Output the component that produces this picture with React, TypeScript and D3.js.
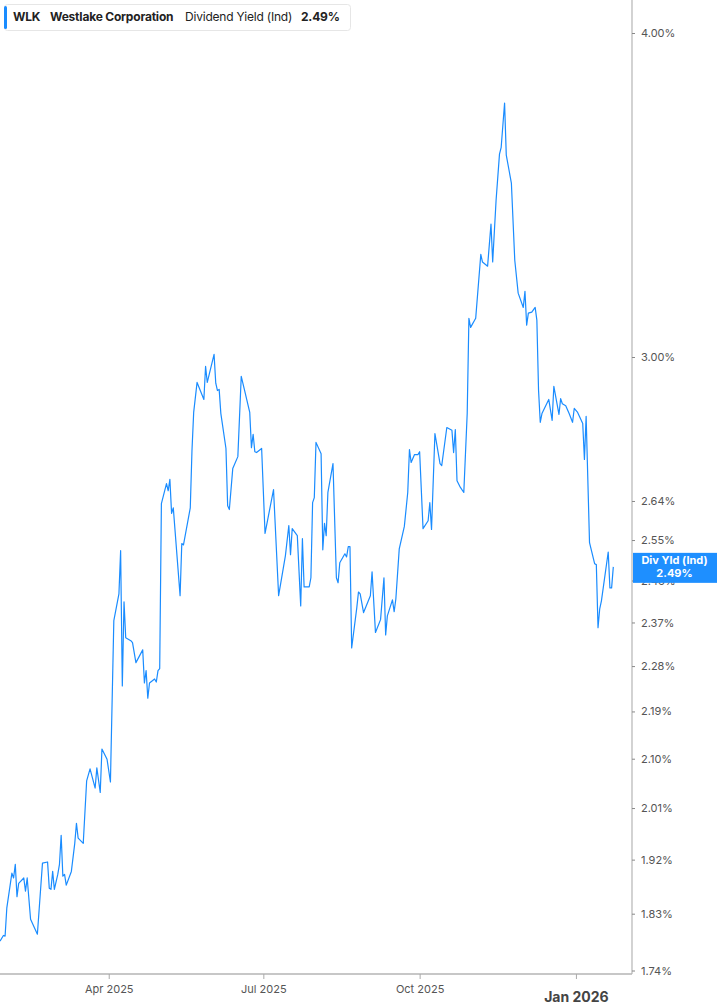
import { useEffect, useRef } from 'react';
import * as d3 from 'd3';

const chartWidth = 717;
const chartHeight = 1005;

const tickerName = 'WLK';
const companyName = 'Westlake Corporation';
const metricName = 'Dividend Yield (Ind)';
const badgeName = 'Div Yld (Ind)';

const dateList = [
  '2025-01-27', '2025-01-29', '2025-01-30', '2025-01-31', '2025-02-03', '2025-02-04', '2025-02-05', '2025-02-06',
  '2025-02-07', '2025-02-10', '2025-02-11', '2025-02-12', '2025-02-14', '2025-02-18', '2025-02-21', '2025-02-24',
  '2025-02-25', '2025-02-26', '2025-02-27', '2025-02-28', '2025-03-02', '2025-03-03', '2025-03-04', '2025-03-05',
  '2025-03-06', '2025-03-07', '2025-03-10', '2025-03-12', '2025-03-13', '2025-03-14', '2025-03-17', '2025-03-19',
  '2025-03-21', '2025-03-24', '2025-03-25', '2025-03-27', '2025-03-28', '2025-03-31', '2025-04-02', '2025-04-04',
  '2025-04-07', '2025-04-08', '2025-04-09', '2025-04-10', '2025-04-11', '2025-04-14', '2025-04-15', '2025-04-17',
  '2025-04-21', '2025-04-22', '2025-04-23', '2025-04-24', '2025-04-25', '2025-04-28', '2025-04-29', '2025-04-30',
  '2025-05-01', '2025-05-02', '2025-05-05', '2025-05-06', '2025-05-07', '2025-05-08', '2025-05-09', '2025-05-13',
  '2025-05-14', '2025-05-15', '2025-05-19', '2025-05-20', '2025-05-21', '2025-05-23', '2025-05-27', '2025-05-28',
  '2025-05-29', '2025-06-02', '2025-06-03', '2025-06-04', '2025-06-05', '2025-06-06', '2025-06-09', '2025-06-10',
  '2025-06-11', '2025-06-13', '2025-06-16', '2025-06-18', '2025-06-20', '2025-06-23', '2025-06-24', '2025-06-25',
  '2025-06-26', '2025-06-27', '2025-06-30', '2025-07-02', '2025-07-07', '2025-07-10', '2025-07-14', '2025-07-16',
  '2025-07-17', '2025-07-18', '2025-07-21', '2025-07-23', '2025-07-24', '2025-07-25', '2025-07-28', '2025-07-29',
  '2025-07-30', '2025-07-31', '2025-08-01', '2025-08-04', '2025-08-05', '2025-08-06', '2025-08-07', '2025-08-08',
  '2025-08-11', '2025-08-13', '2025-08-14', '2025-08-15', '2025-08-18', '2025-08-19', '2025-08-20', '2025-08-21',
  '2025-08-22', '2025-08-25', '2025-08-26', '2025-08-27', '2025-08-29', '2025-09-02', '2025-09-03', '2025-09-05',
  '2025-09-08', '2025-09-10', '2025-09-11', '2025-09-12', '2025-09-15', '2025-09-16', '2025-09-17', '2025-09-19',
  '2025-09-22', '2025-09-24', '2025-09-25', '2025-09-26', '2025-09-28', '2025-09-30', '2025-10-01', '2025-10-03',
  '2025-10-06', '2025-10-07', '2025-10-08', '2025-10-10', '2025-10-13', '2025-10-14', '2025-10-17', '2025-10-20',
  '2025-10-21', '2025-10-22', '2025-10-23', '2025-10-25', '2025-10-27', '2025-10-29', '2025-10-30', '2025-10-31',
  '2025-11-03', '2025-11-06', '2025-11-07', '2025-11-10', '2025-11-12', '2025-11-13', '2025-11-15', '2025-11-17',
  '2025-11-18', '2025-11-20', '2025-11-21', '2025-11-24', '2025-11-26', '2025-11-28', '2025-12-01', '2025-12-02',
  '2025-12-03', '2025-12-04', '2025-12-06', '2025-12-08', '2025-12-09', '2025-12-10', '2025-12-11', '2025-12-12',
  '2025-12-16', '2025-12-18', '2025-12-19', '2025-12-22', '2025-12-23', '2025-12-24', '2025-12-26', '2025-12-28',
  '2025-12-30', '2025-12-31', '2026-01-02', '2026-01-05', '2026-01-06', '2026-01-07', '2026-01-09', '2026-01-12',
  '2026-01-13', '2026-01-14', '2026-01-15', '2026-01-16', '2026-01-20', '2026-01-21', '2026-01-22', '2026-01-23',
];

// dividend yield in %
const yieldList = [
  1.786, 1.795, 1.794, 1.839, 1.897, 1.889, 1.912, 1.858,
  1.88, 1.889, 1.867, 1.889, 1.821, 1.797, 1.914, 1.916,
  1.872, 1.87, 1.9, 1.87, 1.895, 1.912, 1.962, 1.892,
  1.895, 1.877, 1.9, 1.948, 1.983, 1.957, 1.948, 2.059,
  2.081, 2.046, 2.083, 2.038, 2.118, 2.099, 2.057, 2.374,
  2.431, 2.526, 2.24, 2.414, 2.338, 2.332, 2.328, 2.287,
  2.313, 2.246, 2.271, 2.216, 2.246, 2.254, 2.248, 2.271,
  2.275, 2.634, 2.681, 2.664, 2.691, 2.611, 2.624, 2.427,
  2.542, 2.539, 2.624, 2.761, 2.856, 2.933, 2.889, 2.975,
  2.933, 3.007, 2.931, 2.912, 2.915, 2.853, 2.766, 2.629,
  2.62, 2.717, 2.746, 2.949, 2.912, 2.856, 2.768, 2.801,
  2.758, 2.756, 2.766, 2.565, 2.667, 2.427, 2.515, 2.583,
  2.517, 2.576, 2.56, 2.405, 2.553, 2.446, 2.446, 2.466,
  2.636, 2.648, 2.781, 2.753, 2.528, 2.588, 2.56, 2.66,
  2.729, 2.466, 2.455, 2.499, 2.519, 2.512, 2.535, 2.535,
  2.317, 2.401, 2.435, 2.431, 2.391, 2.427, 2.479, 2.349,
  2.376, 2.466, 2.344, 2.384, 2.418, 2.393, 2.42, 2.53,
  2.581, 2.66, 2.763, 2.732, 2.751, 2.751, 2.758, 2.576,
  2.594, 2.636, 2.574, 2.803, 2.729, 2.724, 2.818, 2.811,
  2.756, 2.813, 2.688, 2.672, 2.66, 2.853, 3.105, 3.08,
  3.105, 3.286, 3.264, 3.252, 3.376, 3.264, 3.448, 3.592,
  3.614, 3.759, 3.589, 3.501, 3.269, 3.175, 3.135, 3.18,
  3.086, 3.119, 3.122, 3.135, 3.1, 2.912, 2.831, 2.853,
  2.889, 2.836, 2.923, 2.851, 2.891, 2.878, 2.873, 2.853,
  2.831, 2.866, 2.856, 2.828, 2.739, 2.846, 2.544, 2.497,
  2.495, 2.359, 2.399, 2.416, 2.523, 2.444, 2.444, 2.49,
];

const yTickList = [4.0, 3.0, 2.64, 2.55, 2.46, 2.37, 2.28, 2.19, 2.1, 2.01, 1.92, 1.83, 1.74];
const xTickList = ['2025-04-01', '2025-07-01', '2025-10-01', '2026-01-01'];
const xTickLabelList = ['Apr 2025', 'Jul 2025', 'Oct 2025', 'Jan 2026'];

const parseDate = d3.timeParse('%Y-%m-%d');

export default function App() {
  const svgRef = useRef<SVGSVGElement>(null);

  const drawChart = (svgNode: SVGSVGElement) => {
    const svgEl = d3.select(svgNode);
    svgEl.selectAll('*').remove();

    const plotRight = 632;
    const plotBottom = 974;
    const fontFamily = 'Inter, "Noto Sans", sans-serif';
    const lineColor = '#1a8cff';

    const xScale = d3
      .scaleTime()
      .domain([parseDate('2025-01-27') as Date, parseDate('2026-02-03') as Date])
      .range([0, plotRight]);

    const yScale = d3.scaleLog().domain([1.74, 4.0]).range([970.5, 33]);

    const chartDataList = dateList.map((date, index) => ({
      date: parseDate(date) as Date,
      value: yieldList[index],
    }));

    svgEl
      .append('defs')
      .append('clipPath')
      .attr('id', 'plot-clip')
      .append('rect')
      .attr('x', 0)
      .attr('y', 0)
      .attr('width', plotRight)
      .attr('height', plotBottom);

    // line
    const lineGenerator = d3
      .line<{ date: Date; value: number }>()
      .x((d) => xScale(d.date))
      .y((d) => yScale(d.value));

    svgEl
      .append('path')
      .datum(chartDataList)
      .attr('clip-path', 'url(#plot-clip)')
      .attr('fill', 'none')
      .attr('stroke', lineColor)
      .attr('stroke-width', 1.2)
      .attr('stroke-linejoin', 'round')
      .attr('d', lineGenerator);

    // frame lines
    svgEl
      .append('line')
      .attr('x1', plotRight)
      .attr('x2', plotRight)
      .attr('y1', 0)
      .attr('y2', plotBottom)
      .attr('stroke', '#b5b5b5')
      .attr('stroke-width', 1.2);
    svgEl
      .append('line')
      .attr('x1', 0)
      .attr('x2', plotRight)
      .attr('y1', plotBottom)
      .attr('y2', plotBottom)
      .attr('stroke', '#b5b5b5')
      .attr('stroke-width', 1.5);

    // y axis
    const yAxisEl = svgEl
      .append('g')
      .attr('transform', `translate(${plotRight},0)`)
      .call(
        d3
          .axisRight(yScale)
          .tickValues(yTickList)
          .tickFormat((d) => `${(d as number).toFixed(2)}%`)
          .tickSize(3)
          .tickPadding(6)
      );
    yAxisEl.select('.domain').remove();
    yAxisEl.selectAll('.tick line').attr('stroke', '#888');
    yAxisEl
      .selectAll('.tick text')
      .attr('fill', '#555')
      .style('font-family', fontFamily)
      .style('font-size', '11px');

    // x axis
    const xAxisEl = svgEl
      .append('g')
      .attr('transform', `translate(0,${plotBottom})`)
      .call(
        d3
          .axisBottom(xScale)
          .tickValues(xTickList.map((d) => parseDate(d) as Date))
          .tickFormat((_, i) => xTickLabelList[i])
          .tickSize(5)
          .tickPadding(6)
      );
    xAxisEl.select('.domain').remove();
    xAxisEl.selectAll('.tick line').attr('stroke', '#aaa');
    xAxisEl
      .selectAll('.tick text')
      .attr('fill', '#555')
      .style('font-family', fontFamily)
      .style('font-size', '11px');
    xAxisEl
      .selectAll<SVGTextElement, Date>('.tick text')
      .filter((d) => d.getMonth() === 0)
      .attr('fill', '#444')
      .attr('dy', '1.2em')
      .style('font-weight', '700')
      .style('font-size', '14px');

    // last value badge (sits over the 2.46% tick like the original)
    const lastValue = yieldList[yieldList.length - 1];
    const badgeY = yScale(lastValue);
    const badgeEl = svgEl.append('g');
    badgeEl
      .append('rect')
      .attr('x', plotRight + 1)
      .attr('y', badgeY - 14)
      .attr('width', chartWidth - plotRight - 1)
      .attr('height', 30)
      .attr('fill', '#1e8fff');
    badgeEl
      .append('text')
      .attr('x', (plotRight + chartWidth) / 2)
      .attr('y', badgeY - 3)
      .attr('text-anchor', 'middle')
      .attr('fill', '#fff')
      .style('font-family', fontFamily)
      .style('font-size', '11px')
      .style('font-weight', '700')
      .text(badgeName);
    badgeEl
      .append('text')
      .attr('x', (plotRight + chartWidth) / 2)
      .attr('y', badgeY + 10)
      .attr('text-anchor', 'middle')
      .attr('fill', '#fff')
      .style('font-family', fontFamily)
      .style('font-size', '11px')
      .style('font-weight', '700')
      .text(`${lastValue.toFixed(2)}%`);

    // legend
    const legendEl = svgEl.append('g');
    legendEl
      .append('rect')
      .attr('x', 4.5)
      .attr('y', 4.5)
      .attr('width', 346)
      .attr('height', 26)
      .attr('rx', 3)
      .attr('fill', '#fff')
      .attr('stroke', '#e6e6e6');
    legendEl
      .append('rect')
      .attr('x', 4)
      .attr('y', 6)
      .attr('width', 3)
      .attr('height', 23)
      .attr('rx', 1.5)
      .attr('fill', lineColor);

    const legendTextList = [
      { x: 13, text: tickerName, weight: 700 },
      { x: 50, text: companyName, weight: 700 },
      { x: 185, text: metricName, weight: 400 },
      { x: 301, text: `${lastValue.toFixed(2)}%`, weight: 700 },
    ];
    legendEl
      .selectAll('text')
      .data(legendTextList)
      .enter()
      .append('text')
      .attr('x', (d) => d.x)
      .attr('y', 21)
      .attr('fill', '#222')
      .style('font-family', fontFamily)
      .style('font-size', '12px')
      .style('letter-spacing', '-0.2px')
      .style('font-weight', (d) => d.weight)
      .text((d) => d.text);
  };

  useEffect(() => {
    if (svgRef.current) drawChart(svgRef.current);
  }, []);

  return (
    <svg
      ref={svgRef}
      width={chartWidth}
      height={chartHeight}
      style={{ position: 'fixed', left: 0, top: 0, background: '#fff', display: 'block' }}
    />
  );
}
